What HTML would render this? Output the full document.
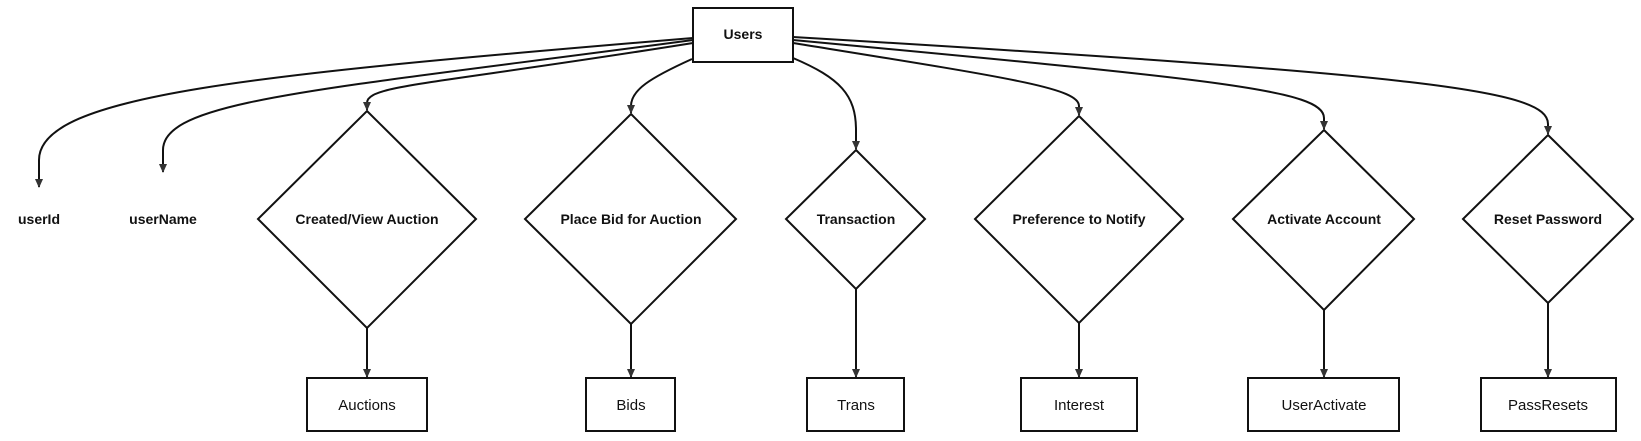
<!DOCTYPE html>
<html><head><meta charset="utf-8"><style>
html,body{margin:0;padding:0;background:#fff;}
svg{display:block;}
text{font-family:"Liberation Sans",sans-serif;fill:#111;}
.b{font-weight:bold;font-size:14px;}
.n{font-size:15px;}
</style></head><body>
<svg width="1641" height="441" viewBox="0 0 1641 441" xmlns="http://www.w3.org/2000/svg">
<defs><marker id="a" markerWidth="10" markerHeight="10" refX="8" refY="5" orient="auto" markerUnits="userSpaceOnUse"><path d="M0,1 L9,5 L0,9 z" fill="#333"/></marker></defs>
<g fill="none" stroke="#111" stroke-width="2">
<path d="M693,38 C250,75 39,95 39,160 L39,187" marker-end="url(#a)"/>
<path d="M693,40 C320,90 163,100 163,150 L163,172" marker-end="url(#a)"/>
<path d="M693,43 C430,85 367,85 367,103 L367,110" marker-end="url(#a)"/>
<path d="M692,59 C650,78 631,90 631,106 L631,113" marker-end="url(#a)"/>
<path d="M793,58 C840,78 856,95 856,130 L856,149" marker-end="url(#a)"/>
<path d="M793,43 C1010,78 1079,88 1079,106 L1079,115" marker-end="url(#a)"/>
<path d="M793,40 C1220,80 1324,90 1324,118 L1324,129" marker-end="url(#a)"/>
<path d="M793,37 C1430,75 1548,90 1548,124 L1548,134" marker-end="url(#a)"/>
<path d="M367,328 L367,377" marker-end="url(#a)"/>
<path d="M631,324 L631,377" marker-end="url(#a)"/>
<path d="M856,289 L856,377" marker-end="url(#a)"/>
<path d="M1079,323 L1079,377" marker-end="url(#a)"/>
<path d="M1324,310 L1324,377" marker-end="url(#a)"/>
<path d="M1548,303 L1548,377" marker-end="url(#a)"/>
<rect x="693" y="8" width="100" height="54" fill="#fff"/>
<polygon points="367,111 476,219 367,328 258,219" fill="#fff"/>
<polygon points="631,114 736,219 631,324 525,219" fill="#fff"/>
<polygon points="856,150 925,219 856,289 786,219" fill="#fff"/>
<polygon points="1079,116 1183,219 1079,323 975,219" fill="#fff"/>
<polygon points="1324,130 1414,219 1324,310 1233,219" fill="#fff"/>
<polygon points="1548,135 1633,219 1548,303 1463,219" fill="#fff"/>
<rect x="307" y="378" width="120" height="53" fill="#fff"/>
<rect x="586" y="378" width="89" height="53" fill="#fff"/>
<rect x="807" y="378" width="97" height="53" fill="#fff"/>
<rect x="1021" y="378" width="116" height="53" fill="#fff"/>
<rect x="1248" y="378" width="151" height="53" fill="#fff"/>
<rect x="1481" y="378" width="135" height="53" fill="#fff"/>
</g>
<g text-anchor="middle">
<text class="b" x="743" y="39">Users</text>
<text class="b" x="39" y="224">userId</text>
<text class="b" x="163" y="224">userName</text>
<text class="b" x="367" y="224">Created/View Auction</text>
<text class="b" x="631" y="224">Place Bid for Auction</text>
<text class="b" x="856" y="224">Transaction</text>
<text class="b" x="1079" y="224">Preference to Notify</text>
<text class="b" x="1324" y="224">Activate Account</text>
<text class="b" x="1548" y="224">Reset Password</text>
<text class="n" x="367" y="410">Auctions</text>
<text class="n" x="631" y="410">Bids</text>
<text class="n" x="856" y="410">Trans</text>
<text class="n" x="1079" y="410">Interest</text>
<text class="n" x="1324" y="410">UserActivate</text>
<text class="n" x="1548" y="410">PassResets</text>
</g>
</svg>
</body></html>
